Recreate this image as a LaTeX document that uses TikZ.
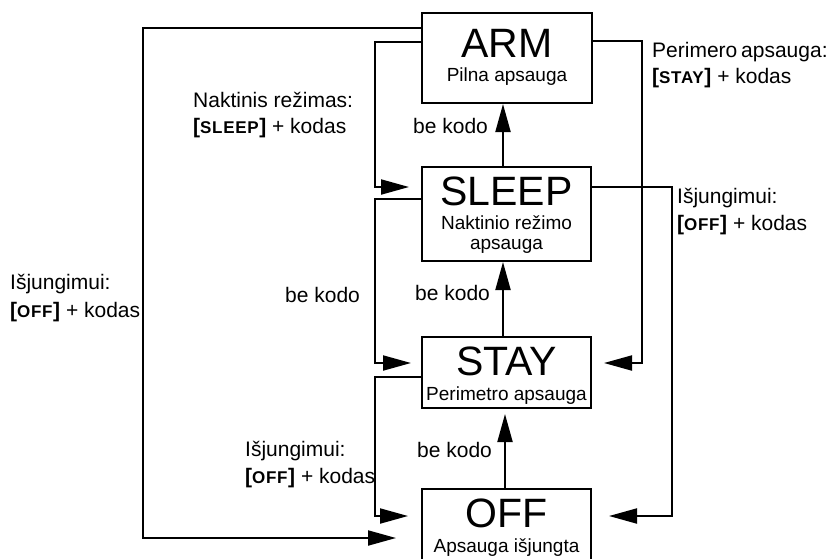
\documentclass[tikz,border=0pt]{standalone}
\usepackage{fontspec}
\setmainfont{Liberation Sans}
\usetikzlibrary{arrows.meta}
\newcommand\keyb[1]{\textbf{[}{\bfseries\addfontfeatures{LetterSpace=4}\fontsize{17pt}{17pt}\selectfont #1}\textbf{]}}
\begin{document}
\begin{tikzpicture}[x=1pt,y=-1pt,
  box/.style={draw,line width=2pt,inner sep=0pt,minimum width=169pt},
  conn/.style={line width=2pt},
  arr/.style={conn,-{Triangle[length=28pt,width=15pt]}},
  lbl/.style={anchor=base west,inner sep=0pt,font=\fontsize{21pt}{24pt}\selectfont},
  ttl/.style={anchor=base,inner sep=0pt,font=\fontsize{41pt}{41pt}\selectfont},
  sub/.style={anchor=base,inner sep=0pt,font=\fontsize{19pt}{22pt}\selectfont}]
\useasboundingbox (0,0) rectangle (830,558);

% state boxes
\node[box,minimum width=170pt,minimum height=90pt] (arm) at (507,58) {};
\node[box,minimum height=94pt] (sleep) at (506.5,214) {};
\node[box,minimum height=71pt] (stay) at (506.5,372.5) {};
\node[box,minimum height=72pt] (off) at (506.5,525) {};

% box texts
\node[ttl] (armT) at (507,57) {ARM};
\node[sub] (armS) at (507,81) {Pilna apsauga};
\node[ttl] (sleepT) at (506.5,205) {SLEEP};
\node[sub] (sleepS1) at (506.5,229) {Naktinio režimo};
\node[sub] (sleepS2) at (506.5,249) {apsauga};
\node[ttl] (stayT) at (506.5,375) {STAY};
\node[sub] (stayS) at (506.5,400) {Perimetro apsauga};
\node[ttl] (offT) at (506.5,527) {OFF};
\node[sub] (offS) at (506.5,552) {Apsauga išjungta};

% labels
\node[lbl] (l1a) at (193,107) {Naktinis režimas:};
\node[lbl] (l1b) at (193,133) {\keyb{SLEEP} + kodas};
\node[lbl] (l2) at (413,133) {be kodo};
\node[lbl] (l3a) at (652,57) {Perimero\hspace{-2pt} apsauga:};
\node[lbl] (l3b) at (652,83) {\keyb{STAY} + kodas};
\node[lbl] (l4a) at (677,203) {Išjungimui:};
\node[lbl] (l4b) at (677,230) {\keyb{OFF} + kodas};
\node[lbl] (l5a) at (10,289) {Išjungimui:};
\node[lbl] (l5b) at (10,317) {\keyb{OFF} + kodas};
\node[lbl] (l6) at (285,302) {be kodo};
\node[lbl] (l7) at (415,300) {be kodo};
\node[lbl] (l8a) at (245,456) {Išjungimui:};
\node[lbl] (l8b) at (245,483) {\keyb{OFF} + kodas};
\node[lbl] (l9) at (417,457) {be kodo};

% helper coordinates
\coordinate (xL1) at (143,0);
\coordinate (xL2) at (375,0);
\coordinate (xR1) at (642,0);
\coordinate (xR2) at (672,0);
\coordinate (t1) at ([xshift=-25pt,yshift=-13pt]off.west);
\coordinate (t2) at ([xshift=-12pt,yshift=27pt]sleep.west);
\coordinate (t3) at ([xshift=-10pt,yshift=9.5pt]stay.west);
\coordinate (t4) at ([xshift=-13pt,yshift=9pt]off.west);
\coordinate (t5) at ([xshift=12pt,yshift=9.5pt]stay.east);
\coordinate (t6) at ([xshift=17pt,yshift=9pt]off.east);

% connectors
\draw[arr] ([yshift=-16pt]arm.north west) -| (xL1 |- t1) -- (t1);
\draw[arr] ([yshift=-30pt]arm.north west) -| (xL2 |- t2) -- (t2);
\draw[arr] ([yshift=15pt]sleep.west) -| (xL2 |- t3) -- (t3);
\draw[arr] ([yshift=-4.5pt]stay.west) -| (xL2 |- t4) -- (t4);
\draw[arr] ([yshift=-29pt]arm.north east) -| (xR1 |- t5) -- (t5);
\draw[arr] ([yshift=27pt]sleep.east) -| (xR2 |- t6) -- (t6);
\draw[arr] ([xshift=-3.5pt]sleep.north) -- ([xshift=-4pt]arm.south);
\draw[arr] ([xshift=-3.5pt]stay.north) -- ([xshift=-3.5pt]sleep.south);
\draw[arr] ([xshift=-1.5pt]off.north) -- ([xshift=-1.5pt,yshift=-5pt]stay.south);
\end{tikzpicture}
\end{document}
